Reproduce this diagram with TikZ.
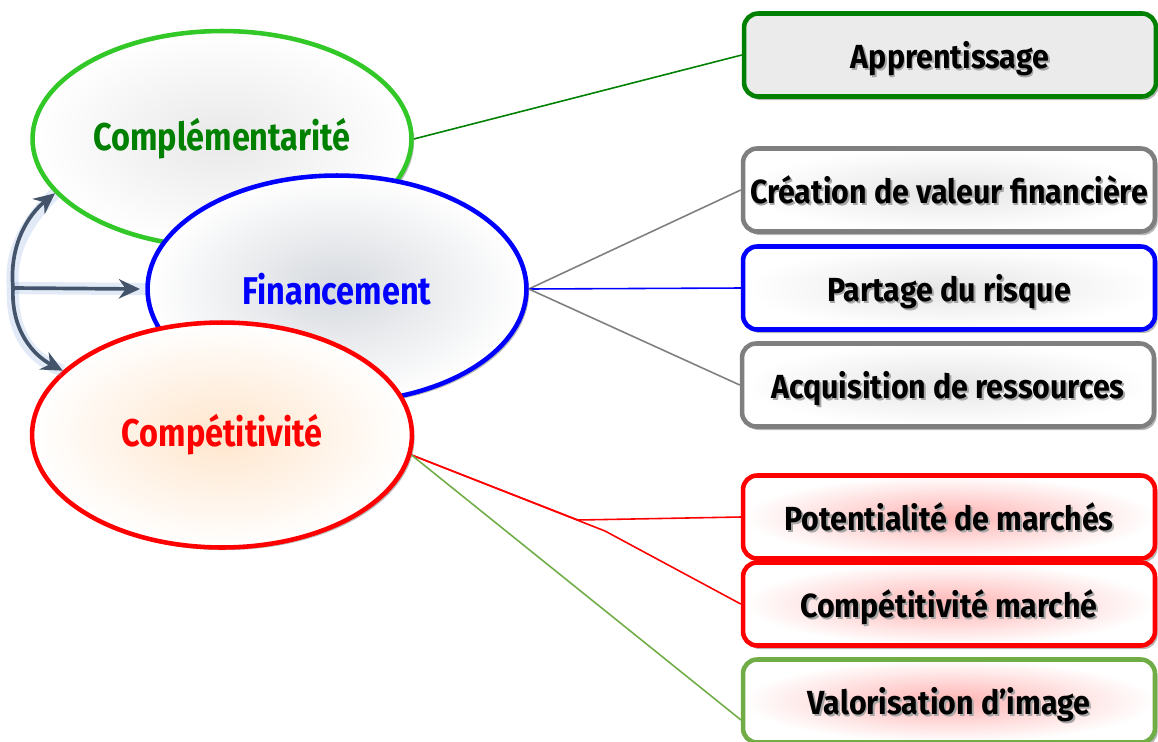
\documentclass[tikz,border=0pt]{standalone}
\usepackage{fontspec}
\usepackage{xcolor}
\usepackage{tikz}
\usetikzlibrary{
	arrows.meta,
	shapes.geometric,
	shadows,
	backgrounds,
	positioning
}
\newfontfamily\bullefont[FakeStretch=0.84]{Fira Sans}
\newfontfamily\cadrefont[FakeStretch=0.91]{Fira Sans}
\definecolor{LimeGreen}{RGB}{50,200,40}
\definecolor{DarkGreen}{RGB}{0,128,0}
\definecolor{OliveGreen}{RGB}{112,173,71}
\definecolor{SlateArrow}{RGB}{68,84,106}
\definecolor{BoxGray}{RGB}{127,127,127}
\definecolor{GlowBlue}{RGB}{120,160,215}
\newcommand{\ombre}[1]{\makebox[0pt][l]{\hspace{1pt}\raisebox{-1pt}{\color{black!35}#1}}#1}

\begin{document}
\begin{tikzpicture}[x=0.02cm, y=-0.02cm,
	bulle/.style={ellipse, line width=2.6pt, inner sep=0pt, outer color=white,
		font=\bullefont\bfseries\fontsize{22}{25}\selectfont,
		drop shadow={shadow xshift=1.5pt, shadow yshift=-1.5pt, opacity=0.55}},
	cadre/.style={rectangle, rounded corners=8pt, line width=2.6pt, inner sep=0pt,
		minimum width=8.24cm, minimum height=1.66cm, outer color=white, text depth=0pt,
		font=\cadrefont\bfseries\fontsize{19}{22}\selectfont,
		drop shadow={shadow xshift=1.5pt, shadow yshift=-2pt, opacity=0.55}},
	fleche/.style={-{Stealth[length=12pt, width=11pt]}, line width=2.1pt, SlateArrow},
	halo/.style={line width=7pt, GlowBlue, opacity=0.22}]
	\useasboundingbox (0,0) rectangle (1158,741);
	% les trois bulles
	\node[bulle, draw=LimeGreen, inner color=black!9, text=DarkGreen,
		minimum width=7.58cm, minimum height=4.32cm] (compl) at (222,139) {Complémentarité};
	\node[bulle, draw=blue, inner color=SlateArrow!22, text=blue,
		minimum width=7.58cm, minimum height=4.54cm] (finan) at (337,289) {Financement};
	\node[bulle, draw=red, inner color=orange!20, text=red,
		minimum width=7.6cm, minimum height=4.5cm] (compe) at (222,435) {Compétitivité};
	% les cadres
	\node[cadre, draw=DarkGreen, fill=black!8, shading=, shade=false] (appr) at (950,55) {\ombre{Apprentissage}};
	\node[cadre, draw=BoxGray, inner color=BoxGray!20] (crea) at (949,190) {\ombre{Création de valeur financière}};
	\node[cadre, draw=blue, inner color=BoxGray!20] (part) at (949,288) {\ombre{Partage du risque}};
	\node[cadre, draw=BoxGray, inner color=BoxGray!20] (acqu) at (948,385) {\ombre{Acquisition de ressources}};
	\node[cadre, draw=red, inner color=red!30] (pote) at (949,517) {\ombre{Potentialité de marchés}};
	\node[cadre, draw=red, inner color=red!30] (compm) at (949,604) {\ombre{Compétitivité marché}};
	\node[cadre, draw=OliveGreen, inner color=red!30] (valo) at (949,701) {\ombre{Valorisation d’image}};
	% liaisons
	\coordinate (coude1) at (578,520);
	\coordinate (coude2) at (605,531);
	\coordinate (valoin) at (741,720);
	\coordinate (racine) at (13,288);
	\begin{scope}[on background layer]
		\draw[DarkGreen, line width=0.9pt] (compl.east) -- (appr.west);
		\draw[BoxGray, line width=0.9pt] (finan.east) -- (crea.west);
		\draw[blue, line width=0.9pt] (finan.east) -- (part.west);
		\draw[BoxGray, line width=0.9pt] (finan.east) -- (acqu.west);
		\draw[red, line width=0.9pt] (compe.-6) -- (coude1) -- (pote.west);
		\draw[red, line width=0.9pt] (compe.-6) -- (coude2) -- (compm.west);
		\draw[OliveGreen, line width=0.9pt] (compe.-6) -- (valoin);
	\end{scope}
	% fleches a gauche
	\draw[halo, yshift=-3pt] (racine) .. controls (9,245) and (28,215) .. (compl.198);
	\draw[halo, yshift=-3pt] (racine) -- (finan.west);
	\draw[halo, yshift=-3pt] (racine) .. controls (11,330) and (33,355) .. (compe.158);
	\draw[fleche] (racine) .. controls (9,245) and (28,215) .. (compl.198);
	\draw[fleche] (racine) -- ([xshift=-3pt]finan.west);
	\draw[fleche] (racine) .. controls (11,330) and (33,355) .. (compe.158);
\end{tikzpicture}
\end{document}
